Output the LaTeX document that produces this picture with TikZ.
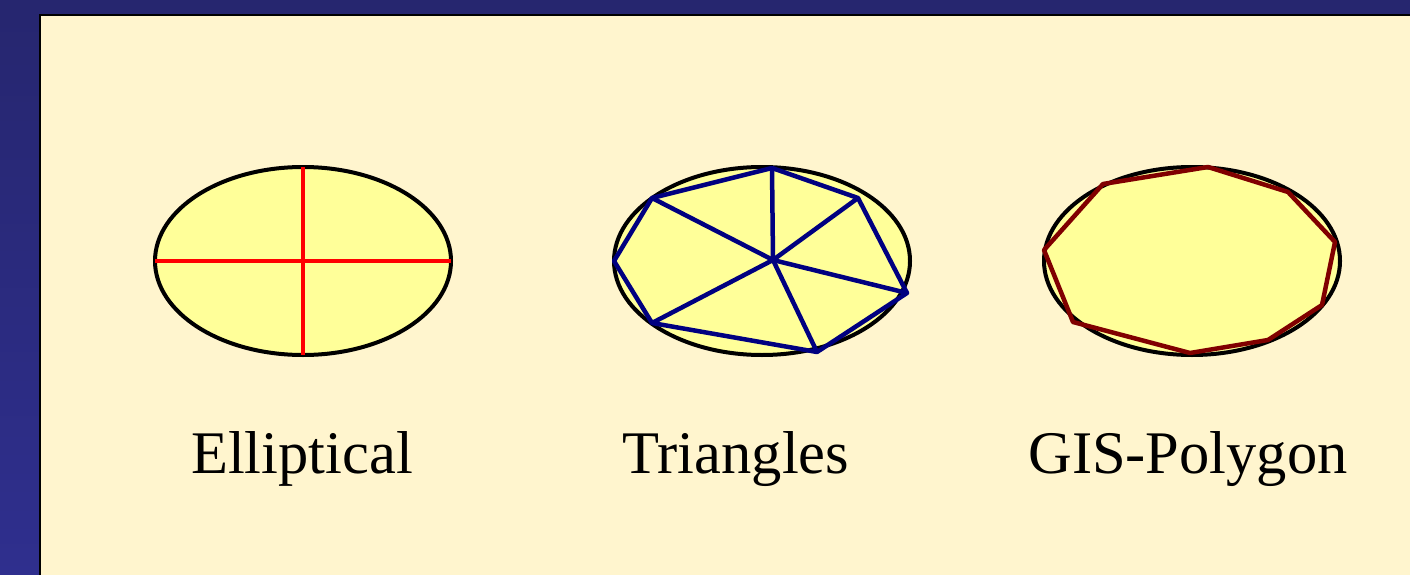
\documentclass[tikz,border=0pt]{standalone}
\usepackage{fontspec}
\setmainfont{Liberation Serif}
\definecolor{bgtop}{HTML}{26266F}
\definecolor{bgbot}{HTML}{2F2F8E}
\definecolor{panel}{HTML}{FFF5CE}
\definecolor{efill}{HTML}{FFFF99}
\definecolor{navyline}{HTML}{000080}
\definecolor{maroonline}{HTML}{800000}
\tikzset{
  shapeoutline/.style={draw=black, line width=4pt, fill=efill},
  crossline/.style={draw=red, line width=4.5pt},
  triline/.style={draw=navyline, line width=4.5pt, line join=round},
  polyline/.style={draw=maroonline, line width=4.5pt, line join=round},
  caption/.style={anchor=base, font=\fontsize{60.5}{72}\selectfont, inner sep=0pt}
}
\begin{document}
\begin{tikzpicture}[x=1pt,y=-1pt]
\useasboundingbox (0,0) rectangle (1410,575);
\shade[top color=bgtop, bottom color=bgbot] (0,0) rectangle (1410,575);
\fill[panel] (40,15) rectangle (1410,575);
\draw[black, line width=2.5pt] (40,585) -- (40,15) -- (1420,15);

% Elliptical
\path[shapeoutline] (303,261) ellipse [x radius=148, y radius=94];
\coordinate (e1l) at (155,261); \coordinate (e1r) at (451,261);
\coordinate (e1t) at (303,167); \coordinate (e1b) at (303,355);
\draw[crossline] (e1l) -- (e1r);
\draw[crossline] (e1t) -- (e1b);
\node[caption] (cap1) at (302,473) {Elliptical};

% Triangles
\path[shapeoutline] (762,261) ellipse [x radius=148, y radius=94];
\coordinate (tc) at (773,260);
\coordinate (t1) at (772,168);
\coordinate (t2) at (858,198);
\coordinate (t3) at (907,293);
\coordinate (t4) at (817,352);
\coordinate (t5) at (652,323);
\coordinate (t6) at (614,261);
\coordinate (t7) at (652,198);
\draw[triline] (t1) -- (t2) -- (t3) -- (t4) -- (t5) -- (t6) -- (t7) -- cycle;
\foreach \p in {t1,t2,t3,t4,t5,t7} \draw[triline] (tc) -- (\p);
\node[caption] (cap2) at (736,473) {Triangles};

% GIS-Polygon
\path[shapeoutline] (1192,261) ellipse [x radius=148, y radius=94];
\coordinate (p1) at (1208,167);
\coordinate (p2) at (1288,192);
\coordinate (p3) at (1335,242);
\coordinate (p4) at (1322,305);
\coordinate (p5) at (1268,340);
\coordinate (p6) at (1190,353);
\coordinate (p7) at (1073,322);
\coordinate (p8) at (1044,250);
\coordinate (p9) at (1103,184);
\draw[polyline] (p1) -- (p2) -- (p3) -- (p4) -- (p5) -- (p6) -- (p7) -- (p8) -- (p9) -- cycle;
\node[caption] (cap3) at (1188,473) {GIS-Polygon};
\end{tikzpicture}
\end{document}
